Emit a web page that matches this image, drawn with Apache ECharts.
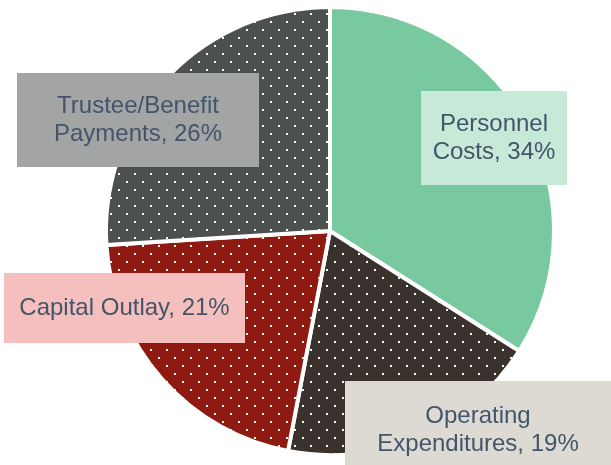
<!DOCTYPE html>
<html>
<head>
<meta charset="utf-8">
<script src="https://cdn.jsdelivr.net/npm/echarts@6/dist/echarts.min.js"></script>
<style>
html, body { margin: 0; padding: 0; background: #fff; }
#chart { width: 611px; height: 465px; }
</style>
</head>
<body>
<div id="chart"></div>
<script>
// data
var categories = ['Personnel\nCosts', 'Operating\nExpenditures', 'Capital Outlay', 'Trustee/Benefit\nPayments'];
var shares = [34, 19, 21, 26];
var sliceColors = ['#78C9A0', '#3A332D', '#8F1A12', '#4C504E'];
var dotted = [false, true, true, true];
var labelBg = ['#C6E9D8', '#DDDAD4', '#F4BFBC', '#A2A5A3'];

// label boxes: centre x, centre y, width, vertical padding
var labelBoxes = [
	[494, 138, 146, 19],
	[478, 430, 266, 21],
	[124.5, 308, 241, 21],
	[138, 120, 242, 19]
];

function dotPattern(base){
	var c = document.createElement('canvas');
	c.width = 16;
	c.height = 16;
	var ctx = c.getContext('2d');
	ctx.fillStyle = base;
	ctx.fillRect(0, 0, 16, 16);
	ctx.fillStyle = '#ffffff';
	ctx.fillRect(14, 5, 2, 2);
	ctx.fillRect(6, 13, 2, 2);
	return {image: c, repeat: 'repeat'};
}

var pieData = [];
for(var i = 0; i < categories.length; i++){
	var lines = categories[i].split('\n').length;
	pieData.push({
		name: categories[i],
		value: shares[i],
		itemStyle: {
			color: dotted[i] ? dotPattern(sliceColors[i]) : sliceColors[i]
		},
		label: {
			backgroundColor: labelBg[i],
			width: labelBoxes[i][2],
			padding: [labelBoxes[i][3], 0, labelBoxes[i][3], 0]
		}
	});
}

var chart = echarts.init(document.getElementById('chart'));
var option = {
	animation: false,
	series: [
		{
			type: 'pie',
			center: [330, 231],
			radius: 224,
			startAngle: 90,
			clockwise: true,
			data: pieData,
			itemStyle: {
				borderColor: '#ffffff',
				borderWidth: 4
			},
			label: {
				show: true,
				position: 'inside',
				formatter: function(p){ return p.name + ', ' + p.value + '%'; },
				color: '#44546A',
				fontFamily: 'Liberation Sans, Arial, sans-serif',
				fontSize: 24,
				lineHeight: 28,
				align: 'center'
			},
			labelLine: { show: false },
			labelLayout: function(params){
				var b = labelBoxes[params.dataIndex];
				return {
					x: b[0],
					y: b[1],
					align: 'center',
					verticalAlign: 'middle'
				};
			}
		}
	]
};
chart.setOption(option);
</script>
</body>
</html>
